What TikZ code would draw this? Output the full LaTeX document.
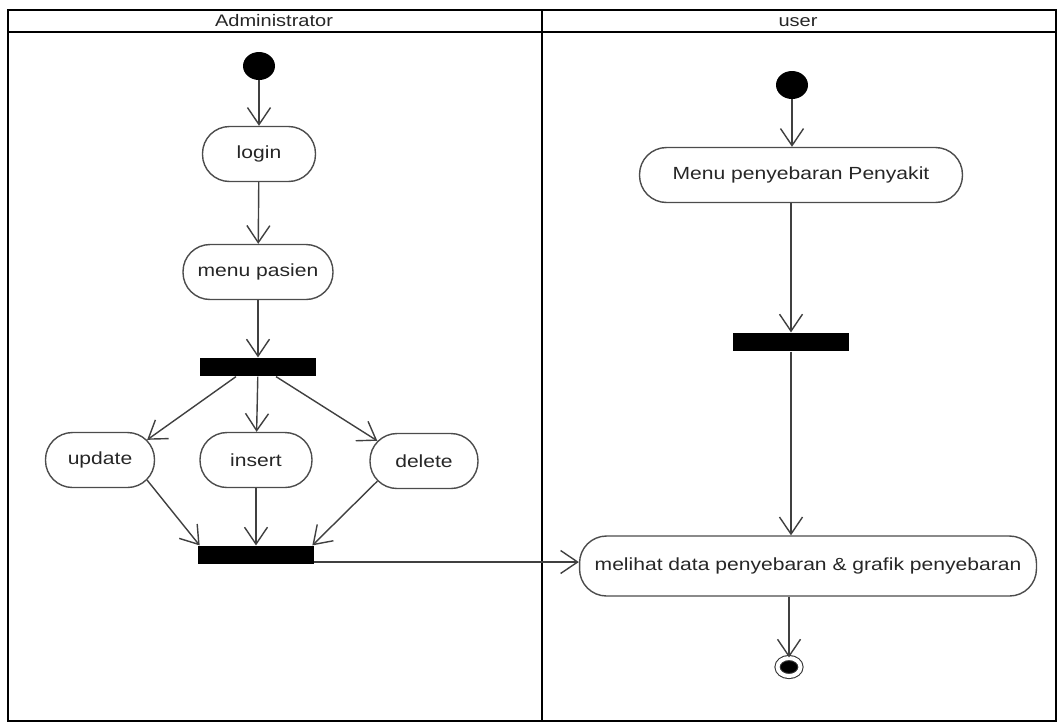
\documentclass[tikz,border=0pt]{standalone}
\usepackage{fontspec}
\setmainfont{Liberation Sans}[FakeStretch=1.2]
\usetikzlibrary{positioning, shapes.geometric, arrows.meta, calc}
\tikzset{
  lane/.style={draw=black, line width=1.6pt},
  lanetitle/.style={font=\fontsize{9.5}{11}\selectfont, text=black!85},
  activity/.style={draw=black!70, line width=0.8pt, rounded corners=0.54cm,
    minimum height=1.1cm, font=\fontsize{10}{12}\selectfont, text=black!85},
  bar/.style={fill=black, minimum width=2.32cm, minimum height=0.37cm, inner sep=0pt},
  startdot/.style={ellipse, fill=black, minimum width=0.64cm, minimum height=0.56cm, inner sep=0pt},
  enddot/.style={ellipse, draw=black!80, fill=black, line width=0.6pt, double=white,
    double distance=0.08cm, minimum width=0.46cm, minimum height=0.36cm, inner sep=0pt},
  flow/.style={black!75, line width=0.8pt, -{Straight Barb[length=0.34cm, width=0.46cm]}}
}

\begin{document}
\begin{tikzpicture}[x=0.02cm, y=-0.02cm]
        \useasboundingbox (0,0) rectangle (1061,725);

        % swimlanes
        \draw[lane] (8,10) rectangle (1056,721);
        \draw[lane] (8,32) -- (1056,32);
        \draw[lane] (542,10) -- (542,721);
        \node[lanetitle] (admintitle) at (274,21) {Administrator};
        \node[lanetitle] (usertitle) at (798,22) {user};

        % ADMINISTRATOR
        \node[startdot] (astart) at (259,66) {};
        \node[activity, minimum width=2.26cm] (login) at (259,154) {login};
        \node[activity, minimum width=3.0cm] (menupasien) at (258,272) {menu pasien};
        \node[bar] (fork) at (258,367) {};

        % update / insert / delete
        \node[activity, minimum width=2.18cm] (update) at (100,460) {update};
        \node[activity, minimum width=2.24cm] (insert) at (256,460) {insert};
        \node[activity, minimum width=2.16cm] (delete) at (424,461) {delete};
        \node[bar] (join) at (256,555) {};
        \coordinate (joinout) at ($(join.east)+(0,7)$);

        % USER
        \node[startdot] (ustart) at (792,85) {};
        \node[activity, minimum width=6.46cm] (menupenyakit) at (801,175) {Menu penyebaran Penyakit};
        \node[bar] (ubar) at (791,342) {};
        \node[activity, minimum width=9.14cm, minimum height=1.2cm] (melihat) at (808,566) {melihat data penyebaran \& grafik penyebaran};
        \node[enddot] (uend) at (789,667) {};

        \path[flow]
        (astart) edge (login)
        (login) edge (menupasien)
        (menupasien) edge (fork)
        ($(fork.south)+(-22,0)$) edge ($(update.north east)+(-8,8)$)
        (fork) edge (insert)
        ($(fork.south)+(18,0)$) edge ($(delete.north west)+(8,8)$)
        ($(update.south east)+(-8,-8)$) edge ($(join.north west)+(2,0)$)
        (insert) edge (join)
        ($(delete.south west)+(8,-8)$) edge ($(join.north east)+(-2,0)$)
        (joinout) edge (joinout -| melihat.west)
        (ustart) edge (ustart |- menupenyakit.north)
        (ubar |- menupenyakit.south) edge (ubar)
        (ubar) edge (ubar |- melihat.north)
        (uend |- melihat.south) edge (uend);
    \end{tikzpicture}
\end{document}
